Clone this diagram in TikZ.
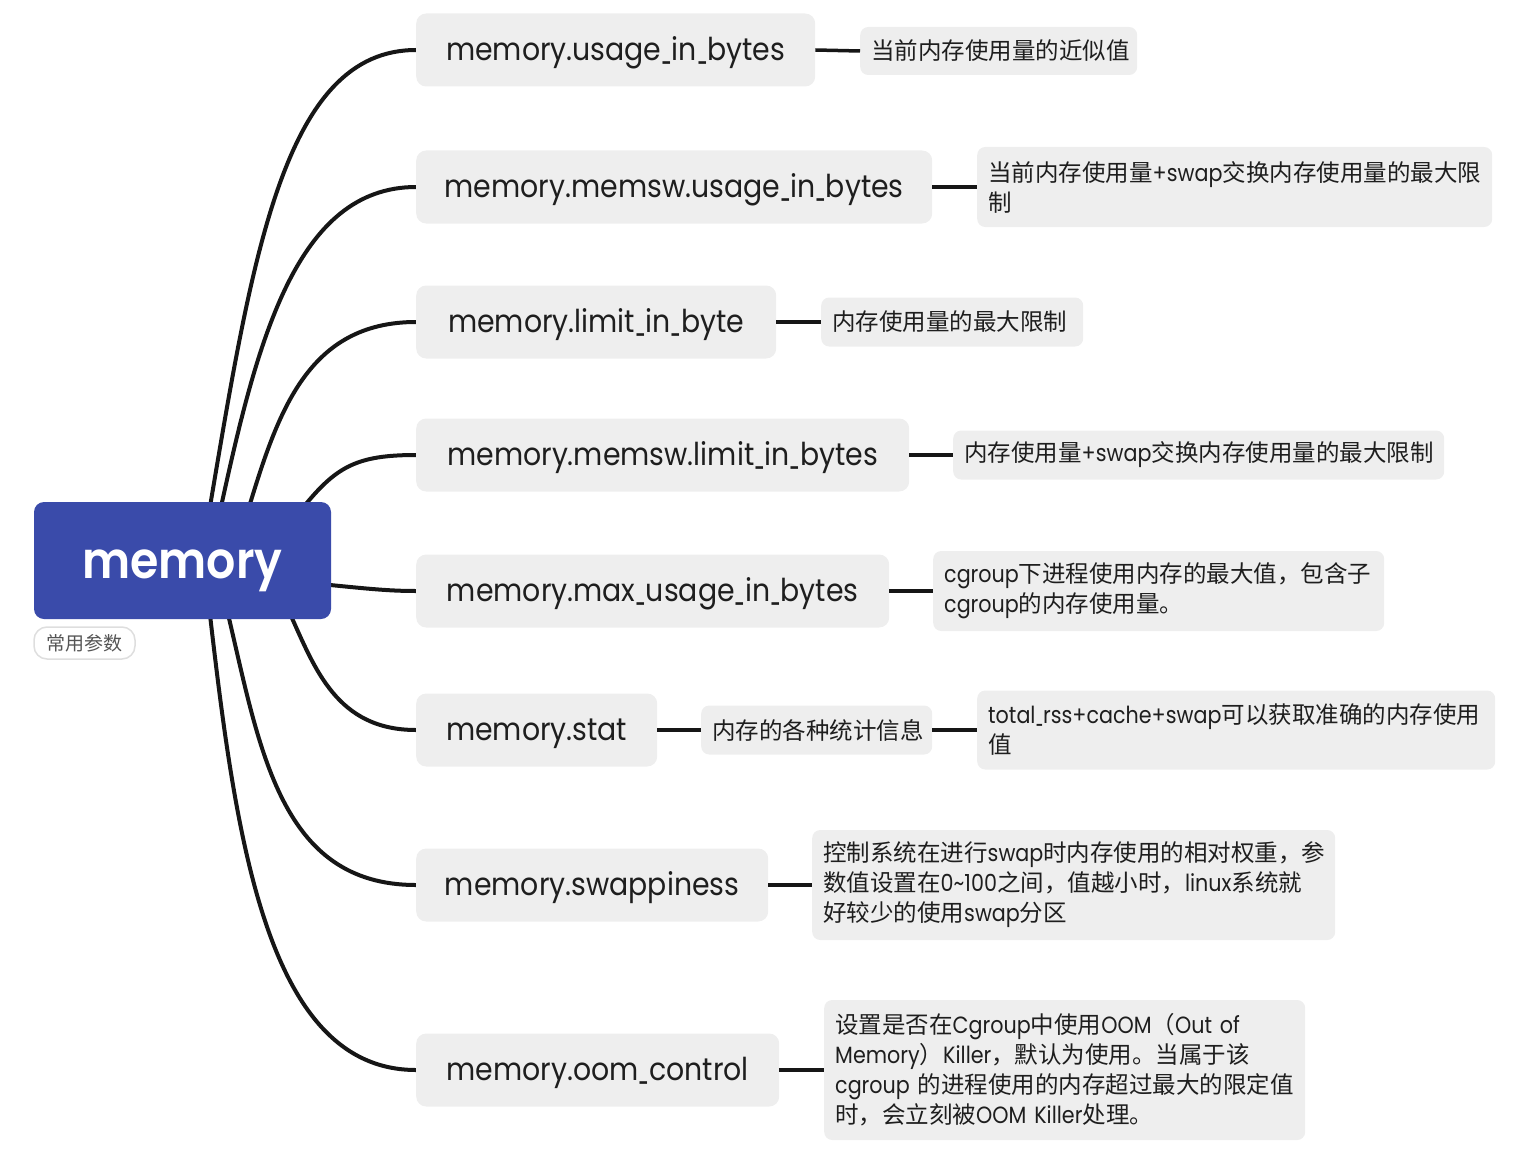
\documentclass[tikz,border=0pt]{standalone}
\usepackage{fontspec}
\setmainfont{Poppins}
\newfontfamily\cjk{Noto Sans CJK SC}
\newfontfamily\topicfont{Poppins}[FakeStretch=0.9]
\newfontfamily\latfont{Poppins}[FakeStretch=0.88]
\newfontfamily\rootfont{Poppins SemiBold}[FakeStretch=0.9]
\newcommand\us{\scalebox{0.5}[1]{\_}}
\newcommand\ltn[1]{{\latfont #1}}
\usetikzlibrary{calc,backgrounds}
\definecolor{rootblue}{RGB}{58,75,170}
\definecolor{boxgray}{RGB}{238,238,238}
\definecolor{linek}{RGB}{22,22,22}
\definecolor{txt}{RGB}{30,30,30}
\definecolor{tagline}{RGB}{222,222,222}
\definecolor{tagtxt}{RGB}{85,85,85}
\tikzset{
  rootbox/.style={fill=rootblue, rounded corners=10pt, minimum width=297pt, minimum height=117pt,
    inner sep=0pt, text=white, text height=35pt, text depth=0pt, font=\rootfont\fontsize{51}{56}\selectfont},
  topicbox/.style={anchor=west, fill=boxgray, rounded corners=10pt, minimum height=73pt,
    inner sep=0pt, text=txt, text height=21.4pt, text depth=0pt, font=\topicfont\fontsize{31.5}{36}\selectfont},
  descbox/.style={anchor=west, fill=boxgray, rounded corners=8pt, inner xsep=11pt, inner ysep=0pt,
    align=left, text=txt, font=\cjk\fontsize{23.5}{30}\selectfont},
  tagbox/.style={fill=white, draw=tagline, line width=1.5pt, rounded corners=13pt,
    minimum width=101pt, minimum height=32pt, inner sep=0pt, text=tagtxt,
    font=\cjk\fontsize{19}{22}\selectfont},
  branch/.style={draw=linek, line width=4pt},
  link/.style={draw=linek, line width=3.5pt}
}
\begin{document}
\begin{tikzpicture}[x=1pt,y=-1pt]
\useasboundingbox (0,0) rectangle (1530,1169);
\node[rootbox] (root) at (182.5,560.5) {memory};
\node[tagbox] (tag) at (84.5,643) {常用参数};

\node[topicbox, minimum width=399pt] (t1) at (416,50) {memory.usage\us in\us bytes};
\node[topicbox, minimum width=516pt] (t2) at (416,187) {memory.memsw.usage\us in\us bytes};
\node[topicbox, minimum width=360pt] (t3) at (416,322) {memory.limit\us in\us byte};
\node[topicbox, minimum width=493pt] (t4) at (416,455) {memory.memsw.limit\us in\us bytes};
\node[topicbox, minimum width=473pt] (t5) at (416,591) {memory.max\us usage\us in\us bytes};
\node[topicbox, minimum width=241pt] (t6) at (416,730) {memory.stat};
\node[topicbox, minimum width=352pt] (t7) at (416,885) {memory.swappiness};
\node[topicbox, minimum width=363pt] (t8) at (416,1070) {memory.oom\us control};

\node[descbox, text width=255pt, minimum height=48pt] (d1) at (860,51) {当前内存使用量的近似值};
\node[descbox, text width=493pt, minimum height=80pt] (d2) at (977,187) {当前内存使用量\ltn{+swap}交换内存使用量的最大限\\制};
\node[descbox, text width=240pt, minimum height=49pt] (d3) at (821,322) {内存使用量的最大限制};
\node[descbox, text width=469pt, minimum height=49pt] (d4) at (953,455) {内存使用量\ltn{+swap}交换内存使用量的最大限制};
\node[descbox, text width=429pt, minimum height=80pt] (d5) at (933,591) {\ltn{cgroup}下进程使用内存的最大值，包含子\\\ltn{cgroup}的内存使用量。};
\node[descbox, text width=209pt, minimum height=49pt] (d6) at (701,730) {内存的各种统计信息};
\node[descbox, text width=496pt, minimum height=79pt] (d6b) at (977,730) {\ltn{total\us rss+cache+swap}可以获取准确的内存使用\\值};
\node[descbox, text width=501pt, minimum height=110pt] (d7) at (812,885) {控制系统在进行\ltn{swap}时内存使用的相对权重，参\\数值设置在\ltn{0\textasciitilde100}之间，值越小时，\ltn{linux}系统就\\好较少的使用\ltn{swap}分区};
\node[descbox, text width=459pt, minimum height=140pt] (d8) at (824,1070) {设置是否在\ltn{Cgroup}中使用\ltn{OOM}（\ltn{Out of}\\\ltn{Memory}）\ltn{Killer}，默认为使用。当属于该\\\ltn{cgroup }的进程使用的内存超过最大的限定值\\时，会立刻被\ltn{OOM Killer}处理。};

\begin{pgfonlayer}{background}
\path[branch] ($(root.north west)+(176,6)$) .. controls (253,252) and (285,50) .. (t1.west);
\path[branch] ($(root.north west)+(187,6)$) .. controls (257,342) and (296,187) .. (t2.west);
\path[branch] ($(root.north west)+(215,6)$) .. controls (278,412) and (308,322) .. (t3.west);
\path[branch] ($(root.north west)+(269,6)$) .. controls (336,467) and (356,455) .. (t4.west);
\path[branch] ($(root.east)+(-6,24)$) .. controls (370,589) and (390,591) .. (t5.west);
\path[branch] ($(root.south west)+(256,-6)$) .. controls (315,669) and (337,730) .. (t6.west);
\path[branch] ($(root.south west)+(194,-6)$) .. controls (260,749) and (280,885) .. (t7.west);
\path[branch] ($(root.south west)+(176,-6)$) .. controls (236,839) and (267,1070) .. (t8.west);
\end{pgfonlayer}

\path[link] (t1.east) -- (d1.west);
\path[link] (t2.east) -- (d2.west);
\path[link] (t3.east) -- (d3.west);
\path[link] (t4.east) -- (d4.west);
\path[link] (t5.east) -- (d5.west);
\path[link] (t6.east) -- (d6.west);
\path[link] (d6.east) -- (d6b.west);
\path[link] (t7.east) -- (d7.west);
\path[link] (t8.east) -- (d8.west);
\end{tikzpicture}
\end{document}
